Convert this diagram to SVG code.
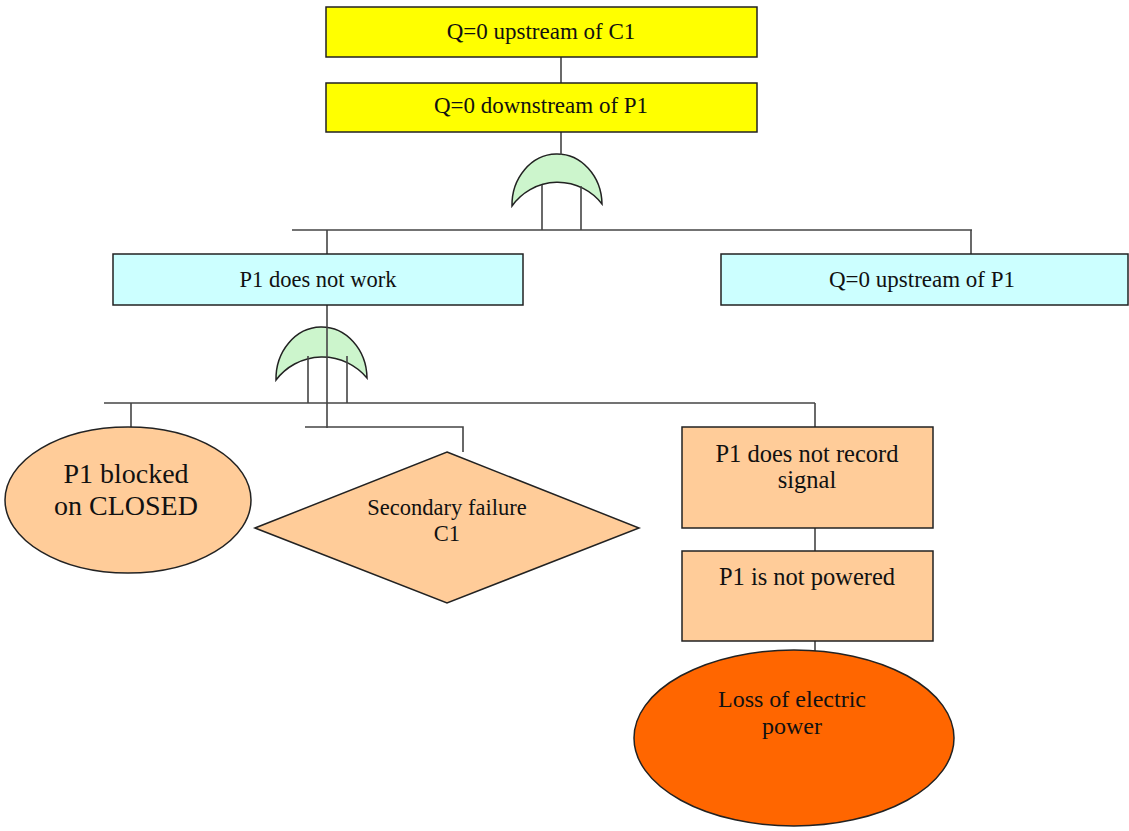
<svg xmlns="http://www.w3.org/2000/svg" width="1129" height="831" viewBox="0 0 1129 831">
<style>
  .box{stroke:#222;stroke-width:1.5}
  .yel{fill:#ffff00}
  .cyan{fill:#ccffff}
  .peach{fill:#ffcc99}
  .orange{fill:#ff6600}
  .gate{fill:#ccf5cc;stroke:#222;stroke-width:1.5}
  .ln{stroke:#444;stroke-width:1.6;fill:none}
  .t{fill:#111;text-anchor:middle;font-family:"Liberation Serif","Times New Roman",serif}
</style>
<rect width="1129" height="831" fill="#fff"/>

<g id="gate1">
  <path class="gate" d="M512,206 A45,51 0 0 1 602,204 A56,56 0 0 0 512,206 Z"/>
</g>
<g id="gate2">
  <path class="gate" d="M276,380 A45.5,52 0 0 1 367,378 A58,58 0 0 0 276,380 Z"/>
</g>

<g id="connectors">
  <line class="ln" x1="561" y1="57" x2="561" y2="83"/>
  <line class="ln" x1="561" y1="132" x2="561" y2="155"/>
  <line class="ln" x1="542" y1="185" x2="542" y2="230"/>
  <line class="ln" x1="581" y1="186" x2="581" y2="230"/>
  <line class="ln" x1="292" y1="230" x2="972" y2="230"/>
  <line class="ln" x1="327" y1="230" x2="327" y2="254"/>
  <line class="ln" x1="971" y1="230" x2="971" y2="254"/>
  <line class="ln" x1="327" y1="305" x2="327" y2="428"/>
  <line class="ln" x1="308" y1="356" x2="308" y2="403"/>
  <line class="ln" x1="347" y1="356" x2="347" y2="403"/>
  <line class="ln" x1="104" y1="403" x2="815" y2="403"/>
  <line class="ln" x1="131" y1="403" x2="131" y2="428"/>
  <line class="ln" x1="815" y1="403" x2="815" y2="428"/>
  <polyline class="ln" points="305,427 463,427 463,452"/>
  <line class="ln" x1="815" y1="528" x2="815" y2="551"/>
  <line class="ln" x1="815" y1="625" x2="815" y2="651"/>
</g>

<g id="n-top">
  <rect class="box yel" x="326" y="7" width="431" height="50"/>
  <text class="t" x="541" y="39" font-size="23">Q=0 upstream of C1</text>
</g>
<g id="n-down">
  <rect class="box yel" x="326" y="83" width="431" height="49"/>
  <text class="t" x="541" y="113" font-size="23">Q=0 downstream of P1</text>
</g>
<g id="n-p1work">
  <rect class="box cyan" x="113" y="254" width="410" height="51"/>
  <text class="t" x="318" y="287" font-size="22.5">P1 does not work</text>
</g>
<g id="n-upP1">
  <rect class="box cyan" x="721" y="254" width="407" height="51"/>
  <text class="t" x="922" y="287" font-size="23">Q=0 upstream of P1</text>
</g>
<g id="n-blocked">
  <ellipse class="box peach" cx="128" cy="500" rx="123" ry="73"/>
  <text class="t" x="126" y="483" font-size="28">P1 blocked</text>
  <text class="t" x="126" y="515" font-size="28">on CLOSED</text>
</g>
<g id="n-secondary">
  <polygon class="box peach" points="447,452 639,528 447,603 255,528"/>
  <text class="t" x="447" y="515" font-size="22.5">Secondary failure</text>
  <text class="t" x="447" y="541" font-size="22.5">C1</text>
</g>
<g id="n-record">
  <rect class="box peach" x="682" y="427" width="251" height="101"/>
  <text class="t" x="807" y="462" font-size="24.5">P1 does not record</text>
  <text class="t" x="807" y="488" font-size="24.5">signal</text>
</g>
<g id="n-powered">
  <rect class="box peach" x="682" y="551" width="251" height="90"/>
  <text class="t" x="807" y="585" font-size="24.5">P1 is not powered</text>
</g>
<g id="n-loss">
  <ellipse class="box orange" cx="794" cy="738" rx="160" ry="88"/>
  <text class="t" x="792" y="707" font-size="24">Loss of electric</text>
  <text class="t" x="792" y="734" font-size="24">power</text>
</g>
</svg>
